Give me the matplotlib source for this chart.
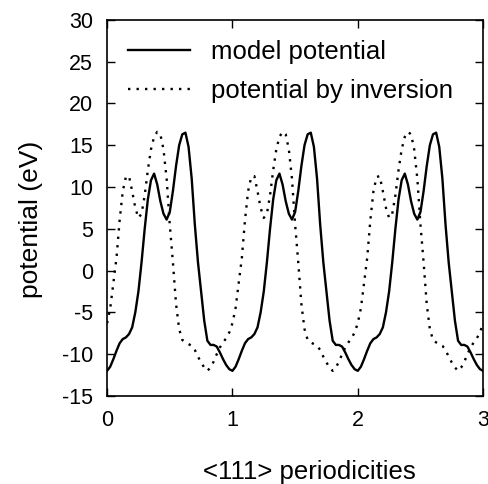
import numpy as np
import matplotlib
matplotlib.use("Agg")
import matplotlib.pyplot as plt

plt.rcParams['font.family'] = ['Liberation Sans', 'DejaVu Sans']
plt.rcParams['axes.unicode_minus'] = False

# one period (0..1) of each potential at steps of 0.025
phase = [i * 0.025 for i in range(41)]
model_period = [-12.0, -11.5, -10.6, -9.6, -8.7, -8.2, -8.0, -7.6, -6.8, -5.0,
                -2.5, 1.0, 5.0, 8.5, 10.8, 11.6, 10.3, 8.3, 6.8, 6.1,
                7.0, 9.5, 12.5, 15.0, 16.3, 16.5, 14.8, 11.0, 5.5, 1.0,
                -2.5, -6.0, -8.4, -8.9, -8.9, -9.1, -9.8, -10.6, -11.3, -11.8,
                -12.0]
inversion_period = [-6.3, -4.5, -1.5, 1.5, 6.0, 9.5, 11.2, 11.3, 9.5, 7.5,
                    6.3, 6.8, 9.0, 12.0, 14.5, 16.0, 16.6, 16.3, 14.5, 11.0,
                    5.5, 1.0, -4.0, -7.0, -8.3, -8.6, -8.8, -9.0, -9.5, -10.3,
                    -11.0, -11.6, -12.0, -11.6, -10.9, -10.0, -9.2, -8.6, -8.1, -7.4,
                    -6.3]
n_periods = 3

x_ticks = [0, 1, 2, 3]
y_ticks = [-15, -10, -5, 0, 5, 10, 15, 20, 25, 30]

x = []
model = []
inversion = []
for k in range(n_periods):
    start = 0 if k == 0 else 1
    x += [k + p for p in phase[start:]]
    model += model_period[start:]
    inversion += inversion_period[start:]

fig = plt.figure(figsize=(4.89, 4.84), dpi=100)
ax = fig.add_axes([0.219, 0.182, 0.769, 0.777])

ax.plot(x, model, color='black', lw=1.7, label='model potential')
ax.plot(x, inversion, color='black', lw=1.7, linestyle=(0, (1, 2.6)),
        label='potential by inversion')

ax.set_xlim(0, 3)
ax.set_ylim(-15, 30)
ax.set_xticks(x_ticks)
ax.set_yticks(y_ticks)
ax.tick_params(direction='in', length=6, width=1, top=True, right=True,
               labelsize=15.5, pad=10)
for s in ax.spines.values():
    s.set_linewidth(1.2)

ax.set_xlabel('<111> periodicities', fontsize=18.5, labelpad=22)
ax.xaxis.set_label_coords(0.537, -0.17)
ax.set_ylabel('potential (eV)', fontsize=19, labelpad=14)
ax.yaxis.label.set_y(0.47)

leg = ax.legend(loc='upper left', bbox_to_anchor=(0.028, 0.975), frameon=False,
                borderaxespad=0, fontsize=18.5, handlelength=2.4,
                handletextpad=0.85, labelspacing=0.6)

fig.savefig('out.png', dpi=100)
